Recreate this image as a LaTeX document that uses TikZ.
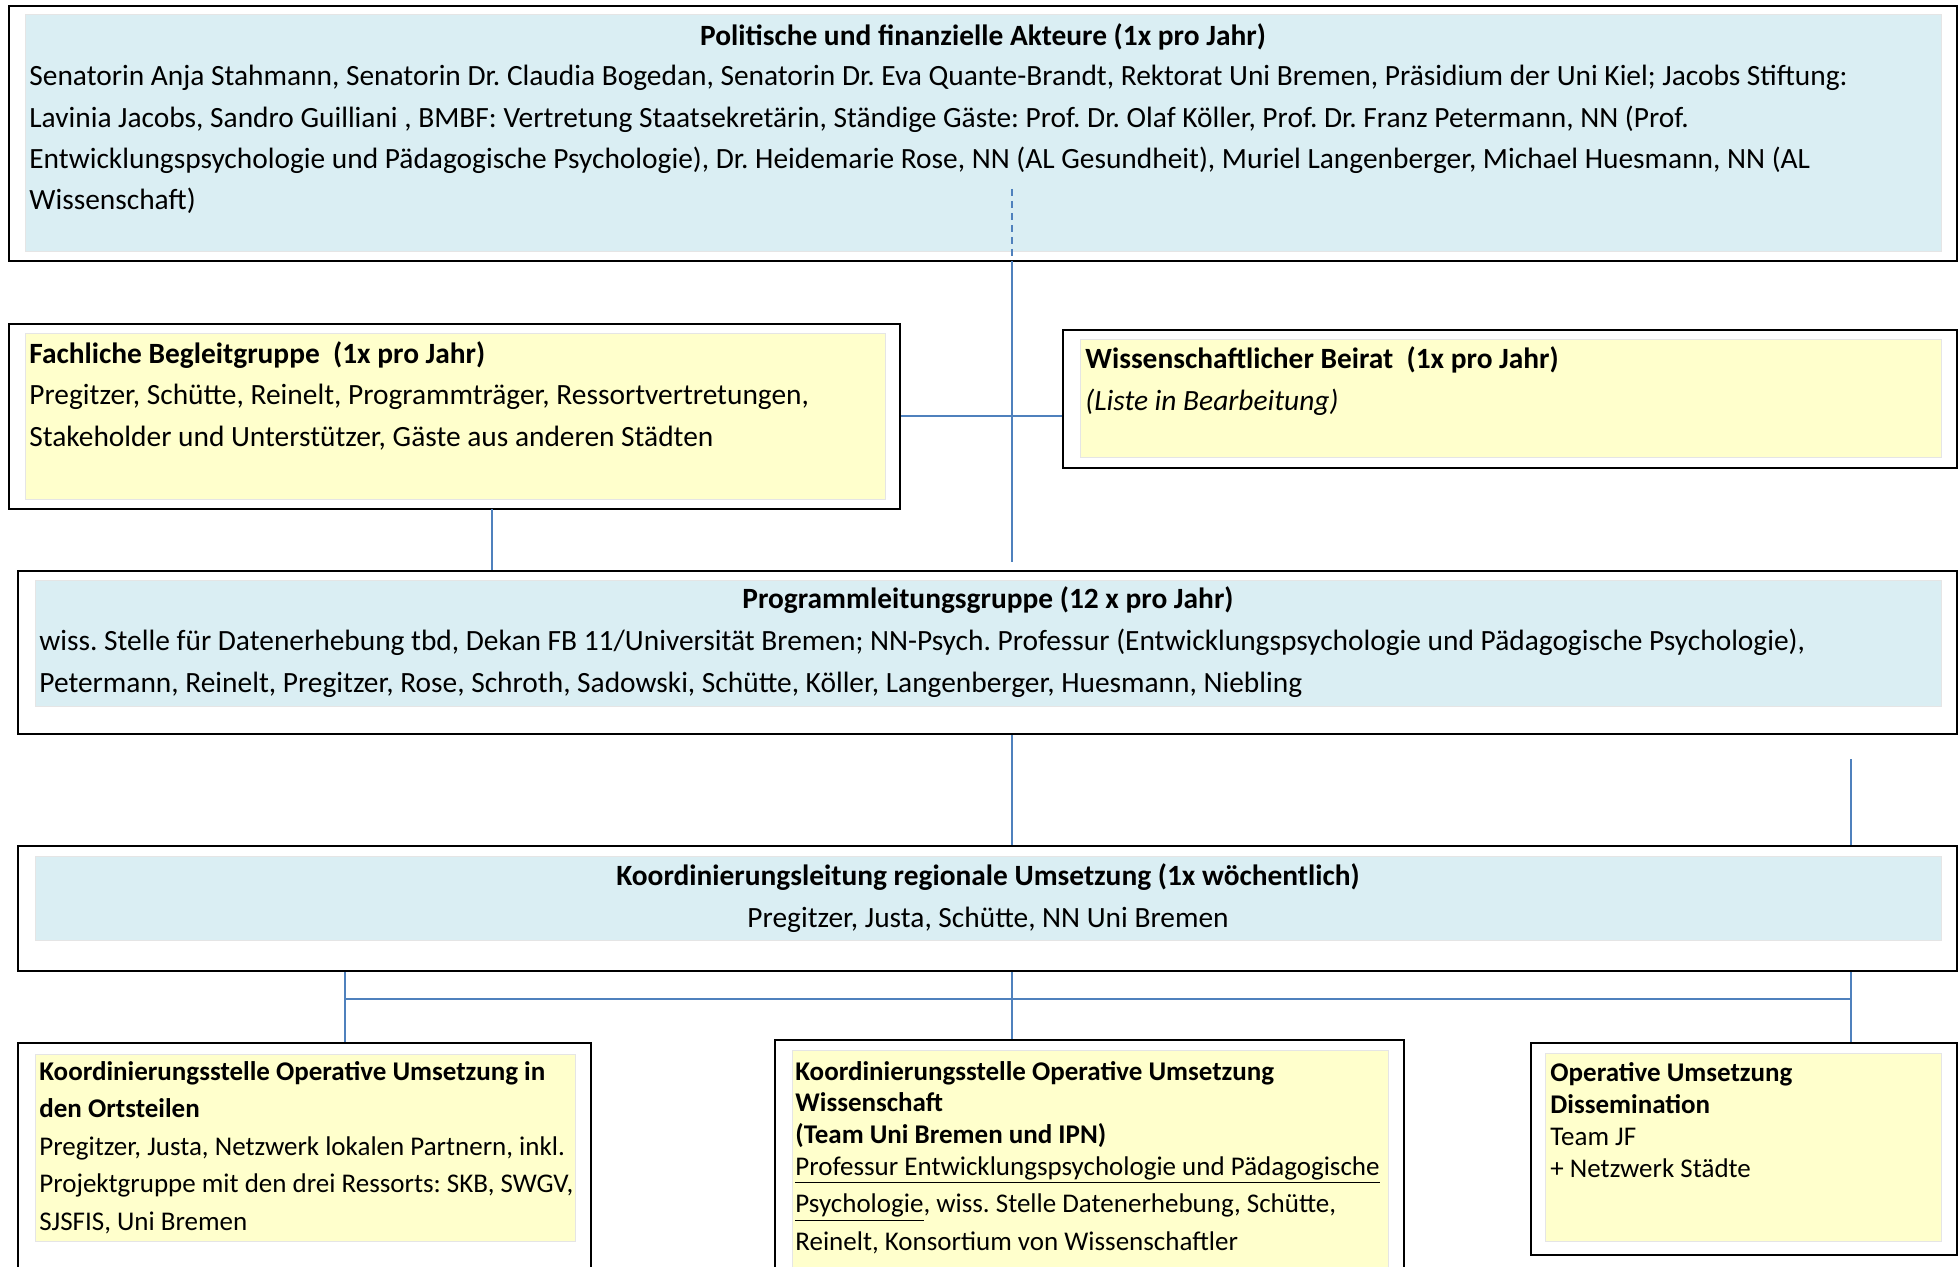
\documentclass[tikz,border=0pt]{standalone}
\usepackage{fontspec}
\setmainfont{Carlito}
\usetikzlibrary{fit,positioning}
\definecolor{paleblue}{HTML}{DAEEF3}
\definecolor{paleyellow}{HTML}{FFFFCC}
\definecolor{linkblue}{HTML}{4F81BD}
\frenchspacing
\tikzset{
  outerbox/.style={draw=black, line width=1.2pt, fill=white, inner sep=0pt},
  bluepad/.style={fill=paleblue, draw=black!10, line width=0.5pt, inner sep=0pt},
  yellowpad/.style={fill=paleyellow, draw=black!10, line width=0.5pt, inner sep=0pt},
  conn/.style={draw=linkblue, line width=1pt},
  head/.style={inner sep=0pt, font=\bfseries\fontsize{14.7}{20.6}\selectfont},
  bodytext/.style={inner sep=0pt, align=left, anchor=north west, execute at begin node=\strut},
  bigfont/.style={font=\fontsize{14.7}{20.6}\selectfont},
  smallfont/.style={font=\fontsize{13.5}{#1}\selectfont},
  smallbold/.style={font=\bfseries\fontsize{13.5}{#1}\selectfont},
}
\begin{document}
\begin{tikzpicture}[x=0.5pt, y=-0.5pt]
\useasboundingbox (0,0) rectangle (1959,1267);
\clip (0,0) rectangle (1959,1267);

% Politische und finanzielle Akteure
\node[outerbox, fit={(9,6) (1957,261)}] (pol) {};
\node[bluepad, fit={(25,15) (1941,252)}] (polpad) {};
\node[head, anchor=base] (poltitle) at (983,45.5) {Politische und finanzielle Akteure (1x pro Jahr)};
\node[bodytext, bigfont] (polbody) at (29,65) {Senatorin Anja Stahmann, Senatorin Dr. Claudia Bogedan, Senatorin Dr. Eva Quante-Brandt, Rektorat Uni Bremen, Präsidium der Uni Kiel; Jacobs Stiftung:\\
Lavinia Jacobs, Sandro Guilliani , BMBF: Vertretung Staatsekretärin, Ständige Gäste: Prof. Dr. Olaf Köller, Prof. Dr. Franz Petermann, NN (Prof.\\
Entwicklungspsychologie und Pädagogische Psychologie), Dr. Heidemarie Rose, NN (AL Gesundheit), Muriel Langenberger, Michael Huesmann, NN (AL\\
Wissenschaft)};

% Fachliche Begleitgruppe
\node[outerbox, fit={(9,324) (900,509)}] (fach) {};
\node[yellowpad, fit={(25,334) (885,499)}] (fachpad) {};
\node[head, anchor=base west] (fachtitle) at (29,363.5) {Fachliche Begleitgruppe\ \ (1x pro Jahr)};
\node[bodytext, bigfont] (fachbody) at (29,384) {Pregitzer, Schütte, Reinelt, Programmträger, Ressortvertretungen,\\
Stakeholder und Unterstützer, Gäste aus anderen Städten};

% Wissenschaftlicher Beirat
\node[outerbox, fit={(1063,330) (1957,468)}] (wiss) {};
\node[yellowpad, fit={(1080,340) (1941,457)}] (wisspad) {};
\node[head, anchor=base west] (wisstitle) at (1085,369) {Wissenschaftlicher Beirat\ \ (1x pro Jahr)};
\node[inner sep=0pt, bigfont, anchor=base west] (wissbody) at (1085,410) {\itshape (Liste in Bearbeitung)};

% Programmleitungsgruppe
\node[outerbox, fit={(18,571) (1957,734)}] (prog) {};
\node[bluepad, fit={(35,580) (1941,706)}] (progpad) {};
\node[head, anchor=base] (progtitle) at (988,608) {Programmleitungsgruppe (12 x pro Jahr)};
\node[bodytext, bigfont] (progbody) at (39,629) {wiss. Stelle für Datenerhebung tbd, Dekan FB 11/Universität Bremen; NN-Psych. Professur (Entwicklungspsychologie und Pädagogische Psychologie),\\
Petermann, Reinelt, Pregitzer, Rose, Schroth, Sadowski, Schütte, Köller, Langenberger, Huesmann, Niebling};

% Koordinierungsleitung
\node[outerbox, fit={(18,846) (1957,971)}] (koord) {};
\node[bluepad, fit={(35,856) (1941,940)}] (koordpad) {};
\node[head, anchor=base] (koordtitle) at (988,885) {Koordinierungsleitung regionale Umsetzung (1x wöchentlich)};
\node[inner sep=0pt, bigfont, anchor=base] (koordbody) at (988,927) {Pregitzer, Justa, Schütte, NN Uni Bremen};

% untere Ebene
\node[outerbox, fit={(18,1043) (591,1300)}] (ort) {};
\node[yellowpad, fit={(35,1054) (575,1241)}] (ortpad) {};
\node[bodytext, smallfont=18.75] (orttext) at (39,1061) {\textbf{Koordinierungsstelle Operative Umsetzung in}\\
\textbf{den Ortsteilen}\\
Pregitzer, Justa, Netzwerk lokalen Partnern, inkl.\\
Projektgruppe mit den drei Ressorts: SKB, SWGV,\\
SJSFIS, Uni Bremen};

\node[outerbox, fit={(775,1040) (1404,1300)}] (wissop) {};
\node[yellowpad, fit={(792,1050) (1388,1300)}] (wissoppad) {};
\node[bodytext, smallbold=15.75] (wissoptitle) at (795,1061) {Koordinierungsstelle Operative Umsetzung\\
Wissenschaft\\
(Team Uni Bremen und IPN)};
\node[bodytext, smallfont=18.75] (wissopbody) at (795,1156) {\underline{Professur Entwicklungspsychologie und Pädagogische}\\
\underline{Psychologie}, wiss. Stelle Datenerhebung, Schütte,\\
Reinelt, Konsortium von Wissenschaftler};

\node[outerbox, fit={(1531,1043) (1957,1255)}] (diss) {};
\node[yellowpad, fit={(1545,1053) (1941,1241)}] (disspad) {};
\node[bodytext, smallfont=16] (disstext) at (1550,1062) {\textbf{Operative Umsetzung}\\
\textbf{Dissemination}\\
Team JF\\
+ Netzwerk Städte};

% Verbindungen
\coordinate (spine) at (1012,189);
\coordinate (fachdrop) at (492,509);
\coordinate (rightstub) at (1851,759);
\coordinate (jA) at (345,999);
\coordinate (jB) at (1012,999);
\coordinate (jC) at (1851,999);
\draw[conn, dash pattern=on 3.5pt off 2.5pt] (spine) -- (spine |- pol.south);
\draw[conn, shorten >=4pt] (spine |- pol.south) -- (spine |- prog.north);
\draw[conn] (fach.east) -- (fach.east -| wiss.west);
\draw[conn] (fachdrop) -- (fachdrop |- prog.north);
\draw[conn] (spine |- prog.south) -- (spine |- koord.north);
\draw[conn] (rightstub) -- (rightstub |- koord.north);
\draw[conn] (jA) -- (jC);
\foreach \j/\b in {jA/ort, jB/wissop, jC/diss}
  \draw[conn] (\j |- koord.south) -- (\j |- \b.north);
\end{tikzpicture}
\end{document}
